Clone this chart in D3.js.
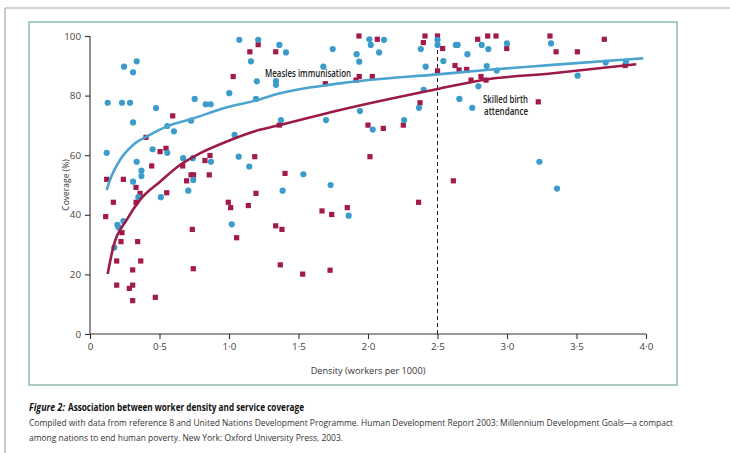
<!DOCTYPE html>
<html><head><meta charset="utf-8">
<script src="https://cdn.jsdelivr.net/npm/d3@7/dist/d3.min.js"></script>
<style>body{margin:0;background:#fff}svg{display:block}</style>
</head><body><svg id="c" width="730" height="453"></svg>
<script>
// ---- data ----
const measlesX = [0.12,0.127,0.23,0.245,0.288,0.31,0.336,0.31,0.336,0.37,0.37,0.45,0.475,0.556,0.556,0.604,0.67,0.727,0.74,0.753,0.832,0.868,0.87,1.002,1.04,1.07,1.074,1.146,1.158,1.194,1.2,1.21,0.31,0.348,0.24,0.197,0.205,0.175,0.51,0.707,0.743,1.02,1.362,1.41,1.338,1.338,1.374,1.535,1.746,1.679,1.698,1.918,1.937,2.01,2.02,2.115,2.08,1.942,2.034,2.26,2.367,2.4,2.415,2.38,2.5,2.5,2.632,2.645,2.818,2.866,3.0,2.715,3.317,2.542,2.854,2.926,2.657,2.75,2.794,3.508,3.71,3.856,3.233,1.731,1.386,1.861,3.36];
const measlesY = [60.8,77.6,77.6,89.7,77.6,87.8,91.5,71,57.8,54.8,53,62,75.8,69.8,60.8,68,59,71.6,59,78.9,77.1,77.1,57.8,80.8,66.8,59.5,98.7,56.2,91.5,78.9,84.8,98.7,51.1,45.9,37.9,36.6,35.8,29,45.9,48.1,51.7,36.8,97,94.5,84.9,83.6,71.8,53.6,95.6,89.7,71.8,93.9,91.4,98.9,97,98.7,94.5,74.8,68.6,71.8,75.9,81.9,89.7,95.6,98.7,97,97,97,97,95.6,97.5,93.9,97.5,91.6,89.9,88.4,78.9,75.9,83.1,86.7,91.1,91.4,57.8,50,48.1,39.7,48.8];
const birthX = [0.595,0.403,0.504,0.547,0.444,0.667,0.727,0.745,0.827,0.863,0.858,0.12,0.24,1.03,1.15,1.21,1.185,0.113,0.168,0.331,0.36,0.331,0.23,0.223,0.343,0.192,0.365,0.192,0.307,0.307,0.283,0.307,0.47,0.552,0.695,0.736,0.743,0.995,1.012,1.055,1.139,1.194,1.336,1.935,2.067,2.41,2.398,2.5,1.693,1.914,1.937,2.031,2.5,1.362,2.0,2.11,2.254,2.374,2.014,1.403,1.336,1.381,1.669,1.739,1.851,2.364,1.369,1.53,1.727,2.537,2.789,2.861,2.921,2.998,3.309,3.353,3.506,3.7,2.626,2.655,2.71,2.741,2.813,2.849,3.225,3.85,2.614];
const birthY = [73.2,66,61.2,62.3,56.4,56.4,53.4,53.4,58.2,59.9,53.4,51.9,51.9,86.4,94.7,97.1,59.5,39.4,44.2,49.2,47.2,44.2,34,31,31,24.5,24.5,16.4,21.5,16.4,15.3,11.2,12.3,47.4,51.4,35.1,21.9,44.2,42.4,32.3,43.1,47.2,94.7,100,98.9,100,97.8,100,84,85.2,86.4,86.4,88.3,70.1,70.1,69,70.1,77.6,59.5,53.9,36.3,35.1,41.3,40.1,42.4,44.2,23.2,20.1,21.4,95.8,98.9,100,100,95.8,100,94.7,94.7,98.9,90.1,88.6,88.8,85.2,86.4,85.2,77.9,90.1,51.4];
const measlesFitX = [0.12,0.144,0.216,0.31,0.43,0.55,0.74,0.98,1.22,1.32,1.8,2.52,2.85,3.33,3.98];
const measlesFitY = [48.3,51.7,58.4,63.4,66.8,69.6,72.3,76,78.7,80.2,84.1,87.2,88.6,90.3,92.5];
const birthFitX = [0.127,0.168,0.264,0.36,0.504,0.647,0.79,0.98,1.22,1.32,1.8,2.52,2.85,3.33,3.93];
const birthFitY = [20.1,29.3,38.3,45,51.1,56.7,60.6,64.5,68.5,69.6,75.2,82.4,85.4,87.5,90.5];
const xTicks = [0,0.5,1,1.5,2,2.5,3,3.5,4];
const yTicks = [0,20,40,60,80,100];
const threshold = 2.5;
const captionLabel = "Figure 2:";
const captionTitle = "Association between worker density and service coverage";
const captionLines = ["Compiled with data from reference 8 and United Nations Development Programme. Human Development Report 2003: Millennium Development Goals\u2014a compact",
  "among nations to end human poverty. New York: Oxford University Press, 2003."];

// ---- drawing ----
const svg = d3.select("#c");
const blue = "#3b9ccb", red = "#a21a4b", axisCol = "#333";
const font = "'Open Sans',sans-serif";

svg.append("rect").attr("width",730).attr("height",453).attr("fill","#fff");
svg.append("line").attr("x1",5).attr("x2",730).attr("y1",8).attr("y2",8).attr("stroke","#a8a8a8").attr("stroke-width",1.2);
svg.append("line").attr("x1",5).attr("x2",5).attr("y1",8).attr("y2",453).attr("stroke","#a8a8a8").attr("stroke-width",1.2);
svg.append("rect").attr("x",29).attr("y",22).attr("width",648).attr("height",363)
  .attr("fill","none").attr("stroke","#7fae9d").attr("stroke-width",1.3);

const x = d3.scaleLinear().domain([0,4]).range([90,646]);
const y = d3.scaleLinear().domain([0,100]).range([334,36]);
const fmt = v => v === 0 ? "0" : d3.format(".1f")(v).replace(".", "\u00b7");

const xAxis = svg.append("g").attr("transform","translate(0,334)")
  .call(d3.axisBottom(x).tickValues(xTicks).tickSize(5).tickPadding(4).tickFormat(fmt));
const yAxis = svg.append("g").attr("transform","translate(90,0)")
  .call(d3.axisLeft(y).tickValues(yTicks).tickSize(5).tickPadding(4).tickFormat(d3.format("d")));
[xAxis,yAxis].forEach(g => {
  g.select(".domain").attr("stroke",axisCol).attr("stroke-width",1.1);
  g.selectAll(".tick line").attr("stroke",axisCol).attr("stroke-width",1.1);
  g.selectAll(".tick text").attr("fill","#444").attr("font-family",font).attr("font-size",9.8);
});
xAxis.select(".domain").attr("d", `M${x(0)},0H${x(4)}`);
yAxis.select(".domain").attr("d", `M0,${y(0)}V${y(100)}`);

svg.append("text").attr("x",368).attr("y",374).attr("text-anchor","middle")
  .attr("font-family",font).attr("font-size",9.2).attr("fill","#333").text("Density (workers per 1000)");
svg.append("text").attr("transform","translate(69,185) rotate(-90)").attr("text-anchor","middle")
  .attr("font-family",font).attr("font-size",8.5).attr("fill","#333").text("Coverage (%)");

svg.append("line").attr("x1",x(threshold)).attr("x2",x(threshold)).attr("y1",y(100)).attr("y2",y(0))
  .attr("stroke","#222").attr("stroke-width",1).attr("stroke-dasharray","4,3");

const birth = birthX.map((v,i)=>({x:v,y:birthY[i]}));
const measles = measlesX.map((v,i)=>({x:v,y:measlesY[i]}));
svg.append("g").selectAll("rect").data(birth).join("rect")
  .attr("x",d=>x(d.x)-2.6).attr("y",d=>y(d.y)-2.6).attr("width",5.2).attr("height",5.2).attr("fill",red);
svg.append("g").selectAll("circle").data(measles).join("circle")
  .attr("cx",d=>x(d.x)).attr("cy",d=>y(d.y)).attr("r",3.1).attr("fill",blue);

const line = d3.line().x(d=>x(d.x)).y(d=>y(d.y)).curve(d3.curveMonotoneX);
svg.append("path").datum(measlesFitX.map((v,i)=>({x:v,y:measlesFitY[i]})))
  .attr("d",line).attr("fill","none").attr("stroke","#4ba4d0").attr("stroke-width",2.6);
svg.append("path").datum(birthFitX.map((v,i)=>({x:v,y:birthFitY[i]})))
  .attr("d",line).attr("fill","none").attr("stroke","#9c1a47").attr("stroke-width",2.6);

const lab = (tx, ty, w, s) => svg.append("text").attr("x",tx).attr("y",ty).attr("font-family",font)
  .attr("font-size",9.8).attr("font-weight",600).attr("fill","#222")
  .attr("textLength",w).attr("lengthAdjust","spacingAndGlyphs").text(s);
lab(265, 77, 86, "Measles immunisation");
lab(483, 103, 45, "Skilled birth");
lab(484, 114.5, 44, "attendance");

const cap = (tx, ty, w, s, size, opts) => {
  const e = svg.append("text").attr("x",tx).attr("y",ty).attr("font-family",font).attr("font-size",size)
    .attr("fill", opts.fill || "#333").attr("textLength",w).attr("lengthAdjust","spacingAndGlyphs").text(s);
  if (opts.bold) e.attr("font-weight",700);
  if (opts.italic) e.attr("font-style","italic");
  return e;
};
cap(29, 411, 36, captionLabel, 9.8, {bold:true, italic:true, fill:"#111"});
cap(68, 411, 236, captionTitle, 9.8, {bold:true, fill:"#111"});
cap(29, 426, 644, captionLines[0], 9, {});
cap(29, 441, 314, captionLines[1], 9.6, {});
</script></body></html>
